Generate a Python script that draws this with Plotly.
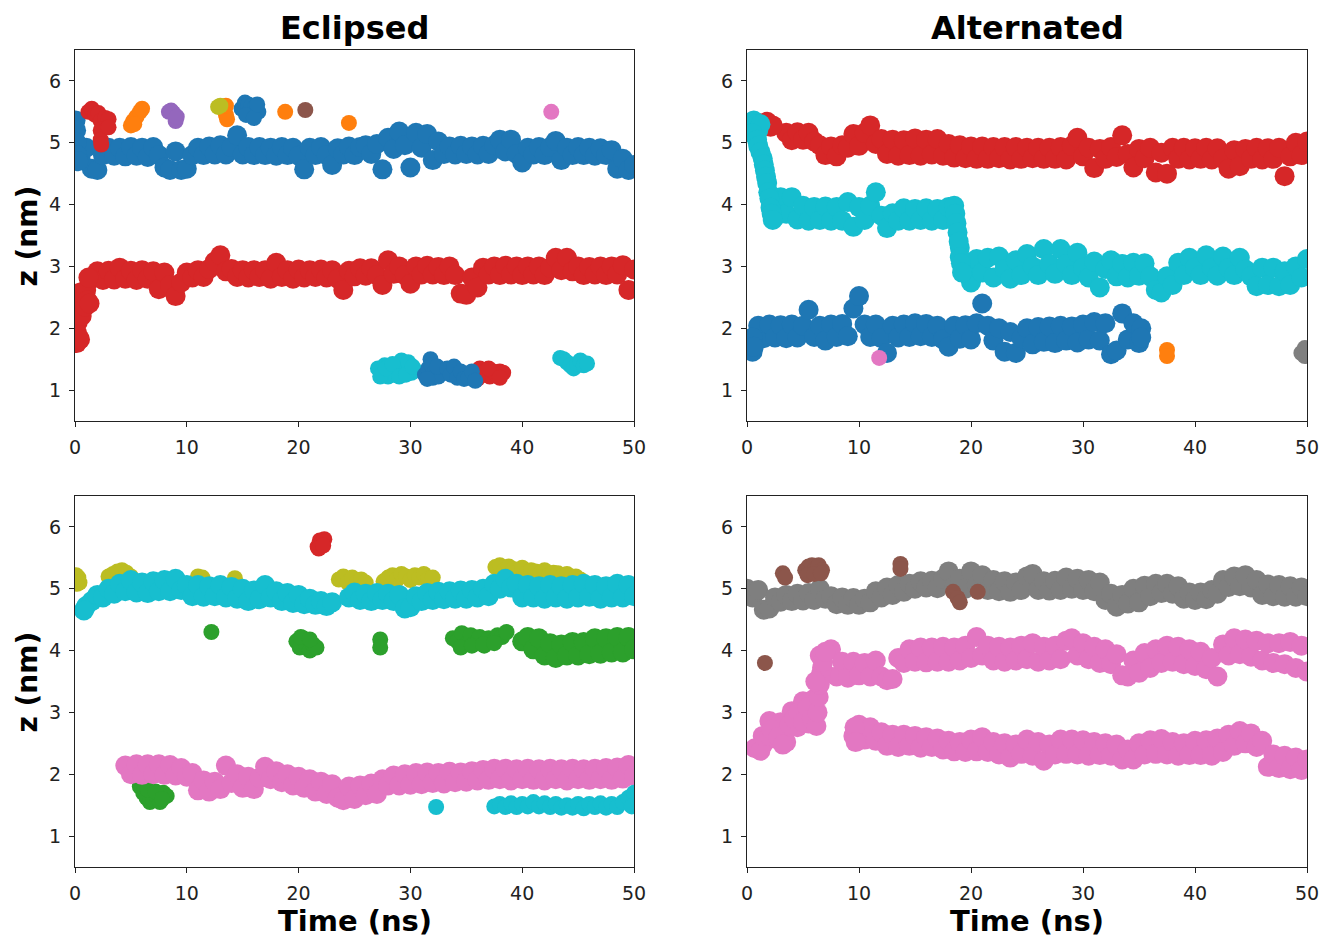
import plotly.graph_objects as go

# Sampling interval of the stored trajectories (ns)
STEP = 0.5

TAB10 = {
    "blue": "#1f77b4", "orange": "#ff7f0e", "green": "#2ca02c", "red": "#d62728",
    "purple": "#9467bd", "brown": "#8c564b", "pink": "#e377c2", "gray": "#7f7f7f",
    "olive": "#bcbd22", "cyan": "#17becf",
}

column_titles = ["Eclipsed", "Alternated"]
time_ticks = [0, 10, 20, 30, 40, 50]
z_ticks = [1, 2, 3, 4, 5, 6]

# ---------------- Eclipsed, upper panel ----------------
ecl1_blue_start = 0.0
ecl1_blue_z = [
    4.92, 4.74, 4.92, 4.58, 4.56, 4.80, 4.92, 4.79, 4.92, 4.78,
    4.93, 4.79, 4.92, 4.77, 4.93, 4.80, 4.60, 4.56, 4.86, 4.56,
    4.58, 4.80, 4.92, 4.80, 4.94, 4.81, 4.96, 4.81, 4.93, 5.12,
    4.81, 4.93, 4.80, 4.93, 4.80, 4.92, 4.79, 4.93, 4.80, 4.92,
    4.79, 4.57, 4.92, 4.80, 4.93, 4.80, 4.64, 4.91, 4.81, 4.94,
    4.80, 4.93, 4.96, 4.82, 4.98, 4.57, 5.08, 4.90, 5.18, 4.96,
    4.60, 5.16, 4.92, 5.14, 4.72, 5.02, 4.82, 4.94, 4.81, 4.95,
    4.82, 4.94, 4.81, 4.95, 4.82, 4.96, 5.05, 4.86, 5.05, 4.82,
    4.68, 4.92, 4.81, 4.93, 4.80, 4.93, 5.03, 4.72, 4.92, 4.80,
    4.93, 4.80, 4.92, 4.79, 4.91, 4.80, 4.88, 4.58, 4.74, 4.56,
    4.64,
]
ecl1_blue_extra_t = [0.05, 0.1, 0.15, 0.2, 0.3]
ecl1_blue_extra_z = [5.36, 5.2, 5.0, 4.8, 4.7]
ecl1_blue_top_t = [14.9, 15.2, 15.5, 15.8, 16.1, 16.4, 15.3, 16.0, 16.3]
ecl1_blue_top_z = [5.55, 5.65, 5.62, 5.60, 5.58, 5.50, 5.45, 5.40, 5.62]

ecl1_red_start = 1.5
ecl1_red_z = [
    2.80, 2.92, 2.78, 2.93, 2.79, 2.98, 2.80, 2.93, 2.78, 2.94,
    2.80, 2.92, 2.63, 2.90, 2.70, 2.52, 2.74, 2.90, 2.82, 2.94,
    2.83, 2.96, 3.08, 3.18, 2.92, 2.96, 2.83, 2.94, 2.82, 2.94,
    2.83, 2.94, 2.80, 3.06, 2.83, 2.94, 2.80, 2.95, 2.82, 2.94,
    2.83, 2.95, 2.82, 2.94, 2.80, 2.62, 2.93, 2.84, 2.97, 2.85,
    2.97, 2.86, 2.70, 3.10, 2.88, 3.00, 2.86, 2.72, 3.00, 2.87,
    3.01, 2.87, 2.99, 2.86, 3.00, 2.86, 2.56, 2.54, 2.82, 2.66,
    2.98, 2.87, 3.00, 2.86, 3.01, 2.87, 3.00, 2.86, 3.00, 2.87,
    3.00, 2.86, 2.98, 3.14, 2.94, 3.14, 2.92, 3.00, 2.86, 2.99,
    2.87, 3.00, 2.86, 3.00, 2.87, 3.02, 2.62, 2.95,
]
ecl1_red_extra_t = [0.15, 0.2, 0.25, 0.3, 0.35, 0.45, 0.5, 0.6, 0.7, 0.9, 1.0, 1.1, 1.2, 1.3]
ecl1_red_extra_z = [1.76, 1.92, 2.1, 2.3, 2.48, 1.82, 2.58, 2.2, 2.45, 2.35, 2.62, 2.45, 2.82, 2.4]

ecl1_red_top_t = [1.2, 1.5, 1.8, 2.1, 2.3, 2.3, 2.3, 2.35, 2.7, 3.0, 3.0]
ecl1_red_top_z = [5.5, 5.55, 5.45, 5.48, 5.35, 5.2, 5.05, 4.97, 5.4, 5.38, 5.25]

ecl1_orange_t = [5.0, 5.2, 5.5, 5.8, 6.0, 5.3, 13.4, 13.5, 13.6, 13.5, 18.8, 24.5]
ecl1_orange_z = [5.28, 5.35, 5.42, 5.5, 5.55, 5.3, 5.55, 5.45, 5.38, 5.6, 5.5, 5.32]
ecl1_olive_t = [12.8, 13.0]
ecl1_olive_z = [5.58, 5.6]
ecl1_purple_t = [8.4, 8.8, 9.0, 8.6, 9.1]
ecl1_purple_z = [5.5, 5.48, 5.35, 5.52, 5.42]
ecl1_brown_t = [20.6]
ecl1_brown_z = [5.53]
ecl1_pink_t = [42.6]
ecl1_pink_z = [5.50]

ecl1_cyan_t = [27.1, 27.4, 27.7, 28.0, 28.3, 28.6, 28.9, 29.2, 29.5, 29.8, 30.1, 30.4,
               27.3, 27.8, 28.4, 29.0, 29.6, 30.2,
               43.4, 43.7, 44.0, 44.3, 44.6, 44.9, 45.2, 45.5, 45.8]
ecl1_cyan_z = [1.35, 1.25, 1.40, 1.22, 1.38, 1.25, 1.40, 1.48, 1.30, 1.45, 1.28, 1.32,
               1.22, 1.35, 1.42, 1.22, 1.25, 1.38,
               1.52, 1.5, 1.45, 1.4, 1.35, 1.42, 1.48, 1.4, 1.43]
ecl1_red_low_t = [35.6, 35.9, 36.2, 36.5, 36.8, 37.1, 37.4, 37.7, 38.0, 38.3, 36.0, 37.0, 38.0]
ecl1_red_low_z = [1.22, 1.3, 1.35, 1.25, 1.32, 1.22, 1.3, 1.25, 1.3, 1.28, 1.18, 1.35, 1.2]
ecl1_blue_low_t = [31.3, 31.6, 31.8, 31.9, 32.0, 32.2, 32.5, 31.5, 32.4,
                   33.3, 33.6, 33.9, 34.2, 34.5, 34.8, 35.2, 35.5, 35.8]
ecl1_blue_low_z = [1.25, 1.35, 1.5, 1.4, 1.2, 1.3, 1.22, 1.18, 1.38,
                   1.35, 1.25, 1.38, 1.2, 1.3, 1.18, 1.2, 1.3, 1.15]

# ---------------- Alternated, upper panel ----------------
alt1_red_start = 3.5
alt1_red_z = [
    5.16, 5.04, 5.17, 5.05, 5.16, 5.02, 4.96, 4.80, 4.94, 4.78,
    4.96, 4.92, 5.14, 4.95, 5.16, 5.28, 4.98, 5.06, 4.82, 5.05,
    4.79, 5.04, 4.80, 5.07, 4.79, 5.05, 4.81, 5.06, 4.79, 4.98,
    4.76, 4.96, 4.75, 4.94, 4.74, 4.94, 4.74, 4.93, 4.75, 4.93,
    4.73, 4.93, 4.74, 4.92, 4.75, 4.92, 4.74, 4.92, 4.74, 4.93,
    4.73, 4.95, 5.08, 4.78, 4.92, 4.59, 4.90, 4.74, 4.93, 4.77,
    5.12, 4.82, 4.60, 4.90, 4.75, 4.92, 4.52, 4.84, 4.50, 4.92,
    4.74, 4.92, 4.73, 4.91, 4.74, 4.92, 4.73, 4.91, 4.74, 4.58,
    4.88, 4.62, 4.90, 4.74, 4.92, 4.73, 4.91, 4.74, 4.92, 4.46,
    4.78, 5.00, 4.80, 5.02,
]
alt1_red_extra_t = [1.0, 1.4, 1.8, 2.1, 2.3]
alt1_red_extra_z = [5.32, 5.28, 5.34, 5.26, 5.28]

alt1_cyan_start = 2.5
alt1_cyan_z = [
    3.80, 4.12, 3.85, 4.12, 3.76, 3.98, 3.74, 3.96, 3.75, 3.97,
    3.74, 3.96, 3.74, 4.04, 3.64, 3.96, 3.75, 3.98, 4.20, 3.82,
    3.62, 3.86, 3.74, 3.94, 3.74, 3.93, 3.75, 3.94, 3.74, 3.93,
    3.75, 3.96, 3.98, 3.30, 2.98, 2.74, 3.12, 2.90, 3.14, 2.82,
    3.16, 2.96, 2.80, 3.10, 2.86, 3.20, 3.00, 2.86, 3.28, 3.04,
    2.88, 3.28, 3.04, 2.86, 3.22, 2.98, 2.82, 3.08, 2.66, 2.96,
    3.10, 2.84, 3.04, 2.82, 3.06, 2.85, 3.05, 2.84, 2.62, 2.58,
    2.84, 2.70, 3.06, 2.86, 3.14, 2.98, 2.86, 3.18, 2.98, 2.85,
    3.16, 2.97, 2.86, 3.14, 2.95, 2.84, 2.68, 2.98, 2.70, 2.98,
    2.68, 2.92, 2.70, 3.00, 2.82, 3.12,
]
alt1_cyan_extra_t = [0.4, 0.6, 0.8, 1.0, 1.2, 0.5, 0.9, 1.0, 1.2, 1.4, 1.5, 1.6, 1.7,
                     1.8, 1.9, 2.0, 2.1, 2.2, 2.3,
                     18.6, 18.7, 18.8, 18.9, 19.0, 19.1, 19.2]
alt1_cyan_extra_z = [5.28, 5.36, 5.3, 5.2, 5.3, 5.15, 5.05, 4.95, 4.85, 4.75, 4.65, 4.55, 4.45,
                     4.35, 4.2, 4.1, 3.95, 3.85, 3.75,
                     3.85, 3.7, 3.55, 3.4, 3.15, 3.05, 2.9]

alt1_blue_start = 0.5
alt1_blue_z = [
    1.62, 2.04, 1.84, 2.06, 1.85, 2.05, 1.84, 2.06, 1.85, 2.04,
    2.30, 1.86, 2.04, 1.80, 2.06, 1.86, 2.07, 1.87, 2.32, 2.52,
    2.06, 1.86, 2.06, 1.84, 1.60, 2.04, 1.85, 2.06, 1.86, 2.08,
    1.87, 2.07, 1.86, 2.04, 1.82, 1.70, 2.04, 1.83, 2.05, 1.82,
    2.08, 2.40, 2.04, 1.80, 2.00, 1.62, 1.94, 1.60, 1.84, 2.00,
    1.74, 2.02, 1.78, 2.03, 1.76, 2.04, 1.80, 2.03, 1.77, 2.06,
    1.82, 2.10, 1.80, 2.08, 1.58, 1.64, 2.24, 1.82, 2.08, 1.76,
]
alt1_blue_extra_t = [35.2, 35.2, 0.5, 0.6]
alt1_blue_extra_z = [2.0, 1.85, 1.85, 1.7]

alt1_pink_t = [11.8]
alt1_pink_z = [1.52]
alt1_orange_t = [37.5, 37.5]
alt1_orange_z = [1.65, 1.55]
alt1_gray_t = [49.5, 49.8, 49.8, 50.0]
alt1_gray_z = [1.6, 1.68, 1.55, 1.62]

# ---------------- Eclipsed, lower panel ----------------
ecl2_cyan_a_start = 1.0
ecl2_cyan_a_z = [
    4.72, 4.80, 4.90, 4.86, 5.00, 4.92, 5.08, 4.96, 5.14, 4.94,
    5.10, 4.93, 5.12, 4.96, 5.14, 4.96, 5.16, 4.98, 5.06, 4.88,
    5.06, 4.87, 5.04, 4.88, 5.06, 4.86, 5.03, 4.84, 5.00, 4.80,
    4.97, 4.83, 5.06, 4.86, 4.96, 4.80, 4.93, 4.77, 4.90, 4.75,
    4.84, 4.74, 4.80, 4.72, 4.78,
]
ecl2_cyan_b_start = 24.5
ecl2_cyan_b_z = [
    4.86, 4.94, 4.82, 4.92, 4.80, 4.93, 4.82, 4.92, 4.80, 4.90,
    4.68, 4.70, 4.88, 4.80, 4.93, 4.82, 4.95, 4.83, 4.96, 4.84,
    4.97, 4.84, 4.98, 4.86, 5.00, 4.88, 5.08, 5.00, 5.16, 5.02,
    5.08, 4.86, 5.06, 4.86, 5.04, 4.84, 5.06, 4.86, 5.04, 4.84,
    5.06, 4.86, 5.08, 4.87, 5.06, 4.84, 5.04, 4.86, 5.08, 4.86,
    5.06, 4.88,
]
ecl2_cyan_extra_t = [0.8]
ecl2_cyan_extra_z = [4.65]

ecl2_olive_t = [0.1, 0.2, 0.3, 0.4,
                3.0, 3.4, 3.8, 4.2, 4.6, 5.0,
                11.0, 11.4, 14.3,
                23.6, 24.0, 24.4, 24.8, 25.2, 25.6, 26.0,
                27.6, 28.0, 28.4, 28.8, 29.2, 29.6, 30.0, 30.4, 30.8, 31.2, 31.6, 32.0,
                37.6, 38.0, 38.4, 38.8, 39.2, 39.6, 40.0, 40.4, 40.8, 41.2,
                41.6, 42.0, 42.4, 42.8, 43.2, 43.6, 44.0, 44.4, 44.8, 45.2]
ecl2_olive_z = [5.22, 5.08, 5.18, 5.1,
                5.2, 5.24, 5.28, 5.3, 5.26, 5.2,
                5.2, 5.18, 5.17,
                5.15, 5.2, 5.1, 5.18, 5.1, 5.15, 5.1,
                5.12, 5.18, 5.22, 5.15, 5.24, 5.2, 5.14, 5.22, 5.18, 5.24, 5.16, 5.18,
                5.35, 5.38, 5.3, 5.36, 5.32, 5.28, 5.34, 5.26, 5.3, 5.28,
                5.25, 5.3, 5.22, 5.26, 5.25, 5.2, 5.24, 5.18, 5.2, 5.15]

ecl2_green_start = 40.0
ecl2_green_z = [
    4.15, 4.22, 4.02, 4.20, 3.92, 4.12, 3.88, 4.10, 3.92, 4.14,
    3.92, 4.14, 3.94, 4.20, 3.95, 4.20, 3.97, 4.22, 3.97, 4.22,
    4.02,
]
ecl2_green_extra_t = [5.8, 6.1, 6.4, 6.7, 7.0, 7.3, 7.6, 7.9, 8.2, 6.5, 7.2, 7.8,
                      12.2,
                      19.8, 20.1, 20.4, 20.7, 21.0, 21.3, 21.6, 20.2, 21.0,
                      27.3, 27.3,
                      33.8, 34.2, 34.6, 35.0, 35.4, 35.8, 36.2, 36.6, 37.0, 37.4, 37.8, 38.2, 38.6,
                      34.5, 35.5, 36.5, 37.5]
ecl2_green_extra_z = [1.8, 1.7, 1.62, 1.55, 1.58, 1.65, 1.55, 1.7, 1.65, 1.75, 1.72, 1.6,
                      4.3,
                      4.15, 4.05, 4.2, 4.08, 4.0, 4.1, 4.05, 4.22, 4.18,
                      4.18, 4.05,
                      4.2, 4.15, 4.28, 4.1, 4.25, 4.12, 4.22, 4.08, 4.2, 4.15, 4.25, 4.22, 4.3,
                      4.05, 4.08, 4.1, 4.12]

ecl2_red_t = [21.7, 21.9, 22.1, 22.3, 21.8, 22.2]
ecl2_red_z = [5.68, 5.78, 5.75, 5.8, 5.65, 5.7]

ecl2_pink_start = 4.5
ecl2_pink_z = [
    2.14, 2.00, 2.16, 1.99, 2.16, 2.00, 2.16, 1.99, 2.15, 1.98,
    2.10, 1.96, 2.02, 1.74, 1.90, 1.72, 1.88, 1.76, 2.14, 1.86,
    2.00, 1.78, 1.96, 1.76, 1.94, 2.12, 1.92, 2.05, 1.87, 2.00,
    1.82, 1.96, 1.78, 1.92, 1.72, 1.88, 1.68, 1.84, 1.62, 1.58,
    1.80, 1.60, 1.82, 1.66, 1.85, 1.68, 1.92, 1.82, 1.98, 1.82,
    2.00, 1.83, 2.02, 1.84, 2.03, 1.86, 2.02, 1.85, 2.04, 1.87,
    2.03, 1.88, 2.05, 1.90, 2.07, 1.91, 2.09, 1.92, 2.09, 1.90,
    2.08, 1.92, 2.09, 1.91, 2.08, 1.90, 2.09, 1.92, 2.08, 1.90,
    2.09, 1.92, 2.08, 1.91, 2.09, 1.92, 2.10, 1.91, 2.11, 1.93,
    2.15, 1.97,
]

ecl2_cyan_low_start = 37.5
ecl2_cyan_low_z = [
    1.48, 1.52, 1.47, 1.53, 1.47, 1.52, 1.48, 1.55, 1.48, 1.53,
    1.47, 1.52, 1.46, 1.50, 1.46, 1.52, 1.45, 1.52, 1.47, 1.53,
    1.46, 1.52, 1.47, 1.55, 1.62, 1.70,
]
ecl2_cyan_low_extra_t = [50.0, 49.8]
ecl2_cyan_low_extra_z = [1.5, 1.48]
ecl2_cyan_dot_t = [32.3]
ecl2_cyan_dot_z = [1.47]

# ---------------- Alternated, lower panel ----------------
alt2_gray_start = 0.0
alt2_gray_z = [
    5.00, 4.86, 4.98, 4.66, 4.68, 4.86, 4.79, 4.90, 4.80, 4.92,
    4.81, 4.93, 4.82, 5.00, 4.84, 4.88, 4.75, 4.86, 4.74, 4.85,
    4.74, 4.84, 4.78, 4.96, 4.86, 5.02, 4.90, 5.06, 4.95, 5.08,
    5.00, 5.12, 5.02, 5.13, 5.01, 5.16, 5.28, 5.04, 5.16, 5.00,
    5.28, 5.06, 5.22, 4.98, 5.14, 4.96, 5.12, 4.95, 5.10, 4.98,
    5.20, 5.24, 4.98, 5.12, 4.97, 5.13, 4.98, 5.18, 5.00, 5.16,
    4.98, 5.14, 4.96, 5.10, 4.82, 4.92, 4.71, 4.90, 4.76, 5.00,
    4.78, 5.05, 4.88, 5.08, 4.93, 5.08, 4.92, 5.04, 4.84, 4.94,
    4.82, 4.94, 4.83, 4.98, 4.92, 5.14, 5.03, 5.20, 5.04, 5.22,
    5.02, 5.14, 4.90, 5.07, 4.88, 5.06, 4.87, 5.04, 4.87, 5.02,
    4.88,
]

alt2_brown_t = [1.6, 3.2, 3.4, 5.2, 5.5, 5.8, 6.1, 6.4, 6.7, 5.4, 6.0, 6.6,
                13.7, 13.7, 18.4, 18.8, 19.0, 20.6]
alt2_brown_z = [3.8, 5.25, 5.18, 5.3, 5.36, 5.38, 5.32, 5.38, 5.3, 5.22, 5.24, 5.25,
                5.4, 5.32, 4.95, 4.85, 4.78, 4.95]

alt2_pink_a_start = 1.0
alt2_pink_a_z = [
    2.42, 2.50, 2.86, 2.58, 2.84, 2.52, 3.02, 2.76, 3.18, 2.82,
    3.22, 3.92, 3.62, 4.02, 3.58, 3.82, 3.56, 3.82, 3.60, 3.80,
    3.58, 3.84, 3.58, 3.52, 3.54, 3.88, 3.80, 4.02, 3.82, 4.05,
    3.81, 4.05, 3.82, 4.06, 3.82, 4.05, 3.84, 4.08, 3.88, 4.22,
    3.92, 4.08, 3.84, 4.06, 3.82, 4.05, 3.84, 4.08, 3.86, 4.12,
    3.82, 4.06, 3.84, 4.08, 3.86, 4.16, 4.20, 3.92, 4.12, 3.86,
    4.06, 3.80, 4.02, 3.78, 3.94, 3.60, 3.58, 3.84, 3.64, 3.96,
    3.72, 4.02, 3.80, 4.08, 3.82, 4.06, 3.78, 4.02, 3.75, 3.98,
    3.70, 3.88, 3.58, 4.10, 3.92, 4.20, 3.94, 4.18, 3.90, 4.16,
    3.84, 4.12, 3.80, 4.12, 3.78, 4.14, 3.72, 4.08, 3.66,
]
alt2_pink_a_extra_t = [0.7, 1.2, 1.4, 2.0, 2.2, 2.8, 3.2, 3.8, 4.2, 4.6, 5.0, 5.4, 5.8,
                       6.2, 6.3, 6.4, 6.5, 6.6, 6.7, 6.8, 7.0, 6.1]
alt2_pink_a_extra_z = [2.42, 2.38, 2.62, 2.62, 2.72, 2.60, 2.48, 2.80, 2.90, 3.0, 2.85, 3.08, 2.9,
                       2.78, 3.0, 3.25, 3.45, 3.62, 3.72, 3.82, 3.98, 3.50]

alt2_pink_b_start = 9.5
alt2_pink_b_z = [
    2.62, 2.80, 2.56, 2.76, 2.54, 2.68, 2.46, 2.64, 2.44, 2.64,
    2.46, 2.62, 2.43, 2.60, 2.44, 2.58, 2.40, 2.54, 2.37, 2.52,
    2.36, 2.56, 2.37, 2.60, 2.36, 2.52, 2.32, 2.50, 2.27, 2.48,
    2.33, 2.56, 2.30, 2.52, 2.22, 2.48, 2.32, 2.56, 2.33, 2.56,
    2.32, 2.55, 2.30, 2.52, 2.31, 2.50, 2.30, 2.48, 2.24, 2.40,
    2.24, 2.50, 2.32, 2.55, 2.33, 2.57, 2.32, 2.52, 2.30, 2.50,
    2.31, 2.54, 2.31, 2.55, 2.30, 2.58, 2.36, 2.64, 2.46, 2.70,
    2.50, 2.66, 2.44, 2.54, 2.12, 2.32, 2.10, 2.30, 2.08, 2.27,
    2.07, 2.24,
]
alt2_pink_b_extra_t = [9.6, 9.7]
alt2_pink_b_extra_z = [2.76, 2.52]


def frames(start, values):
    """Time stamps for a trajectory stored every STEP ns from `start`."""
    return [start + STEP * i for i in range(len(values))]


def traj(start, values, extra_t=(), extra_z=()):
    return frames(start, values) + list(extra_t), list(values) + list(extra_z)


# Marker diameters: long, densely sampled residences vs. short visits
BAND, SPOT = 20, 16

# Drawing order within each panel (later entries sit on top)
panels = {
    (0, 0): [
        ("blue", BAND, *traj(ecl1_blue_start, ecl1_blue_z, ecl1_blue_extra_t, ecl1_blue_extra_z)),
        ("blue", SPOT, ecl1_blue_top_t, ecl1_blue_top_z),
        ("red", BAND, *traj(ecl1_red_start, ecl1_red_z, ecl1_red_extra_t, ecl1_red_extra_z)),
        ("red", SPOT, ecl1_red_top_t, ecl1_red_top_z),
        ("orange", SPOT, ecl1_orange_t, ecl1_orange_z),
        ("olive", SPOT, ecl1_olive_t, ecl1_olive_z),
        ("purple", SPOT, ecl1_purple_t, ecl1_purple_z),
        ("brown", SPOT, ecl1_brown_t, ecl1_brown_z),
        ("pink", SPOT, ecl1_pink_t, ecl1_pink_z),
        ("cyan", SPOT, ecl1_cyan_t, ecl1_cyan_z),
        ("red", SPOT, ecl1_red_low_t, ecl1_red_low_z),
        ("blue", SPOT, ecl1_blue_low_t, ecl1_blue_low_z),
    ],
    (0, 1): [
        ("red", BAND, *traj(alt1_red_start, alt1_red_z, alt1_red_extra_t, alt1_red_extra_z)),
        ("cyan", BAND, *traj(alt1_cyan_start, alt1_cyan_z, alt1_cyan_extra_t, alt1_cyan_extra_z)),
        ("blue", BAND, *traj(alt1_blue_start, alt1_blue_z, alt1_blue_extra_t, alt1_blue_extra_z)),
        ("pink", SPOT, alt1_pink_t, alt1_pink_z),
        ("orange", SPOT, alt1_orange_t, alt1_orange_z),
        ("gray", SPOT, alt1_gray_t, alt1_gray_z),
    ],
    (1, 0): [
        ("olive", SPOT, ecl2_olive_t, ecl2_olive_z),
        ("cyan", BAND, *traj(ecl2_cyan_a_start, ecl2_cyan_a_z, ecl2_cyan_extra_t, ecl2_cyan_extra_z)),
        ("cyan", BAND, *traj(ecl2_cyan_b_start, ecl2_cyan_b_z)),
        ("red", SPOT, ecl2_red_t, ecl2_red_z),
        ("green", SPOT, ecl2_green_extra_t, ecl2_green_extra_z),
        ("green", BAND, *traj(ecl2_green_start, ecl2_green_z)),
        ("pink", BAND, *traj(ecl2_pink_start, ecl2_pink_z)),
        ("cyan", SPOT, *traj(ecl2_cyan_low_start, ecl2_cyan_low_z, ecl2_cyan_low_extra_t, ecl2_cyan_low_extra_z)),
        ("cyan", SPOT, ecl2_cyan_dot_t, ecl2_cyan_dot_z),
    ],
    (1, 1): [
        ("gray", BAND, *traj(alt2_gray_start, alt2_gray_z)),
        ("brown", SPOT, alt2_brown_t, alt2_brown_z),
        ("pink", BAND, *traj(alt2_pink_a_start, alt2_pink_a_z, alt2_pink_a_extra_t, alt2_pink_a_extra_z)),
        ("pink", BAND, *traj(alt2_pink_b_start, alt2_pink_b_z, alt2_pink_b_extra_t, alt2_pink_b_extra_z)),
    ],
}

W, H = 1322, 937
# axes boxes in pixels: (left, right) per column, (top, bottom) per row
col_px = [(75, 634), (747, 1307)]
row_px = [(50, 421), (496, 867)]

fig = go.Figure()
FONT = "DejaVu Sans"

for (r, c), series in panels.items():
    idx = r * 2 + c + 1
    xname = "x" if idx == 1 else f"x{idx}"
    yname = "y" if idx == 1 else f"y{idx}"
    for color, size, ts, zs in series:
        fig.add_trace(go.Scatter(
            x=ts, y=zs, mode="markers", xaxis=xname, yaxis=yname,
            marker=dict(size=size, color=TAB10[color], line=dict(width=0)),
            showlegend=False, hoverinfo="skip",
        ))
    l, rr = col_px[c]
    t, b = row_px[r]
    common = dict(
        showline=True, linecolor="#222", linewidth=1.2, mirror=True,
        ticks="outside", ticklen=5, tickwidth=1.2, tickcolor="#222",
        showgrid=False, zeroline=False, automargin=False,
        tickfont=dict(family=FONT, size=19, color="#222"),
    )
    fig.layout[f"xaxis{'' if idx == 1 else idx}"] = dict(
        domain=[l / W, rr / W], range=[0, 50], tickvals=time_ticks,
        anchor=yname, ticklabelstandoff=4, **common)
    fig.layout[f"yaxis{'' if idx == 1 else idx}"] = dict(
        domain=[1 - b / H, 1 - t / H], range=[0.5, 6.5], tickvals=z_ticks,
        anchor=xname, ticklabelstandoff=4, **common)

annotations = []
for c, title in enumerate(column_titles):
    cx = (col_px[c][0] + col_px[c][1]) / 2 / W
    annotations.append(dict(text=f"<b>{title}</b>", x=cx, y=1 - 28 / H, xref="paper", yref="paper",
                            showarrow=False, font=dict(family=FONT, size=32, color="black"),
                            xanchor="center", yanchor="middle"))
    annotations.append(dict(text="<b>Time (ns)</b>", x=cx, y=1 - 921 / H, xref="paper", yref="paper",
                            showarrow=False, font=dict(family=FONT, size=29, color="black"),
                            xanchor="center", yanchor="middle"))
for r in range(2):
    cy = 1 - (row_px[r][0] + row_px[r][1]) / 2 / H
    annotations.append(dict(text="<b>z (nm)</b>", x=27 / W, y=cy, xref="paper", yref="paper",
                            showarrow=False, textangle=-90,
                            font=dict(family=FONT, size=28, color="black"),
                            xanchor="center", yanchor="middle"))

fig.update_layout(
    width=W, height=H, margin=dict(l=0, r=0, t=0, b=0),
    paper_bgcolor="white", plot_bgcolor="white",
    annotations=annotations,
)

fig.write_html("out.html")
